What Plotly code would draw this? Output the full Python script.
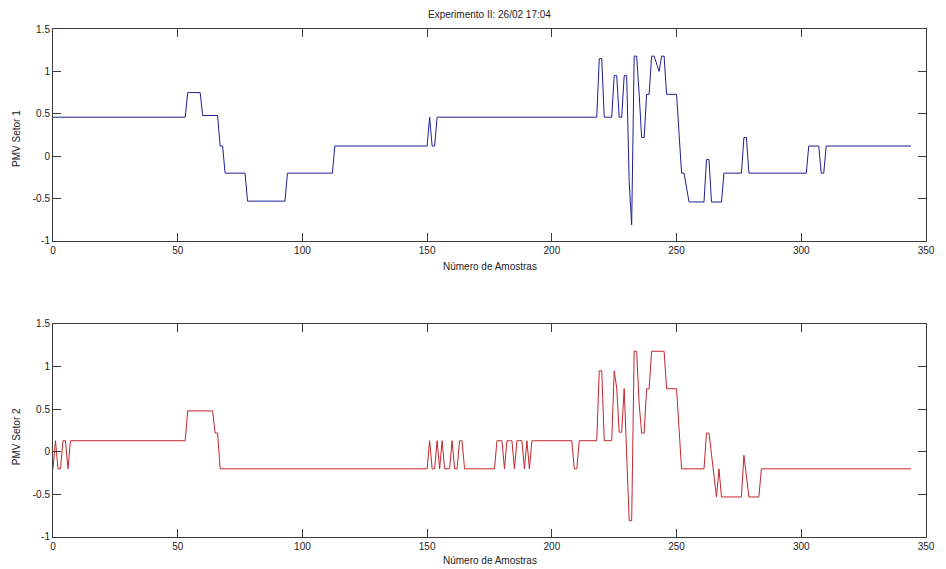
import numpy as np
import plotly.graph_objects as go

# ---- data (PMV levels as run-length: value, number of consecutive samples) ----
setor1_levels = [0.46, 0.75, 0.48, 0.12, -0.2, -0.53, -0.2, 0.12, 0.46, 0.12, 0.46, 1.15, 0.46,
                 0.95, 0.46, 0.95, -0.3, -0.81, 1.18, 0.73, 0.22, 0.73, 1.18, 1.09, 1.0, 1.18,
                 0.73, 0.27, -0.2, -0.37, -0.54, -0.04, -0.54, -0.2, 0.22, -0.2, 0.12, -0.2, 0.12]
setor1_counts = [54, 6, 7, 2, 9, 16, 19, 38, 1, 2, 65, 2, 4,
                 2, 2, 2, 1, 1, 2, 1, 2, 2, 2, 1, 1, 2,
                 5, 1, 2, 1, 7, 2, 5, 8, 2, 24, 5, 2, 35]

setor2_levels = [-0.2, 0.13, -0.2, 0.13, -0.2, 0.13, 0.48, 0.22, -0.2, 0.13, -0.2, 0.13, -0.2,
                 0.13, -0.2, 0.13, -0.2, 0.13, -0.2, 0.13, -0.2, 0.13, -0.2, 0.13, -0.2, 0.13,
                 -0.2, 0.13, -0.2, 0.13, 0.95, 0.13, 0.95, 0.75, 0.23, 0.74, 0.0, -0.81, 1.18,
                 0.56, 0.22, 0.74, 1.18, 0.74, 0.27, -0.2, 0.22, -0.03, -0.28, -0.53, -0.2,
                 -0.53, -0.04, -0.3, -0.53, -0.2]
setor2_counts = [1, 1, 2, 2, 1, 47, 11, 2, 84, 1, 2, 1, 1,
                 1, 3, 1, 2, 2, 13, 3, 1, 3, 1, 3, 1, 1,
                 1, 17, 2, 8, 2, 4, 1, 1, 2, 1, 1, 2, 2,
                 1, 2, 2, 6, 5, 1, 10, 2, 1, 1, 1, 1,
                 9, 1, 1, 5, 61]

title_text = "Experimento II: 26/02 17:04"
xlabel = "Número de Amostras"
ylabel1 = "PMV Setor 1"
ylabel2 = "PMV Setor 2"
xticks = [0, 50, 100, 150, 200, 250, 300, 350]
yticks = [-1, -0.5, 0, 0.5, 1, 1.5]
ytick_labels = ["-1", "-0.5", "0", "0.5", "1", "1.5"]

pmv1 = np.repeat(setor1_levels, setor1_counts)
pmv2 = np.repeat(setor2_levels, setor2_counts)
n1 = np.arange(len(pmv1))
n2 = np.arange(len(pmv2))

FONT = "Liberation Sans, Arial, Helvetica, sans-serif"
AX = "#3a3a3a"
TXT = "#222222"

fig = go.Figure()
fig.add_trace(go.Scatter(x=n1, y=pmv1, mode="lines", line=dict(color="#1e1e96", width=1),
                         xaxis="x", yaxis="y", showlegend=False, hoverinfo="skip"))
fig.add_trace(go.Scatter(x=n2, y=pmv2, mode="lines", line=dict(color="#c3262e", width=1),
                         xaxis="x2", yaxis="y2", showlegend=False, hoverinfo="skip"))

xa = dict(range=[0, 350], tickvals=xticks, ticks="inside", ticklen=8, tickcolor=AX,
          showline=True, linecolor=AX, linewidth=1, mirror="ticks", showgrid=False,
          zeroline=False, tickfont=dict(family=FONT, size=10, color=TXT))
ya = dict(range=[-1, 1.5], tickvals=yticks, ticktext=ytick_labels, ticks="inside", ticklen=8,
          tickcolor=AX, showline=True, linecolor=AX, linewidth=1, mirror="ticks",
          showgrid=False, zeroline=False, tickfont=dict(family=FONT, size=10, color=TXT))

# page body adds an 8px margin, so the figure is sized/placed to compensate
fig.update_layout(
    width=938, height=561,
    margin=dict(l=45, r=11, t=21, b=32),
    paper_bgcolor="white", plot_bgcolor="white",
    font=dict(family=FONT, size=10, color=TXT),
    xaxis=dict(xa, domain=[0, 1], anchor="y"),
    yaxis=dict(ya, domain=[0.5827, 1.0], anchor="x"),
    xaxis2=dict(xa, domain=[0, 1], anchor="y2"),
    yaxis2=dict(ya, domain=[0.0, 0.4193], anchor="x2"),
    annotations=[
        dict(text=title_text, x=0.5, y=1.0295, xref="paper", yref="paper",
             showarrow=False, xanchor="center", yanchor="middle",
             font=dict(family=FONT, size=10, color=TXT)),
        dict(text=xlabel, x=0.5, y=0.5315, xref="paper", yref="paper",
             showarrow=False, xanchor="center", yanchor="middle",
             font=dict(family=FONT, size=10, color=TXT)),
        dict(text=xlabel, x=0.5, y=-0.047, xref="paper", yref="paper",
             showarrow=False, xanchor="center", yanchor="middle",
             font=dict(family=FONT, size=10, color=TXT)),
        dict(text=ylabel1, x=-0.041, y=0.784, xref="paper", yref="paper", textangle=-90,
             showarrow=False, xanchor="center", yanchor="middle",
             font=dict(family=FONT, size=10, color=TXT)),
        dict(text=ylabel2, x=-0.041, y=0.197, xref="paper", yref="paper", textangle=-90,
             showarrow=False, xanchor="center", yanchor="middle",
             font=dict(family=FONT, size=10, color=TXT)),
    ],
)

fig.write_html("out.html")
